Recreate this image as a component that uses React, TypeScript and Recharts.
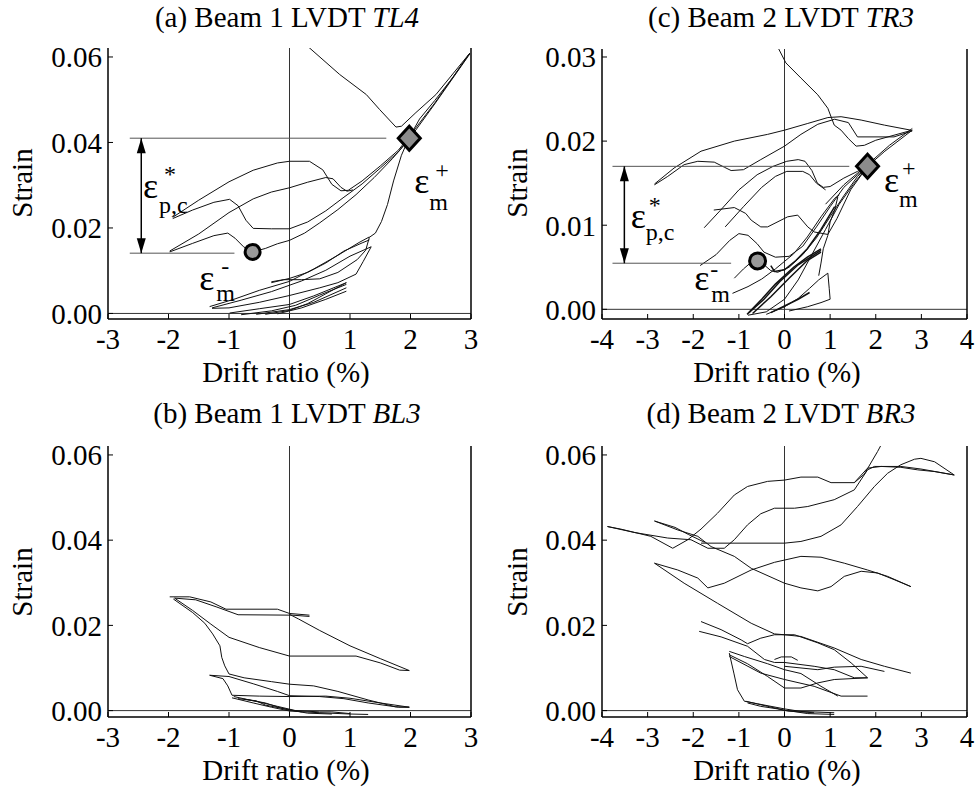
import { ComposedChart, Line, XAxis, YAxis, ReferenceLine, ReferenceDot } from 'recharts'
import type { ReactNode } from 'react'

type Pt = [number, number]

const FONT = "'Liberation Serif', 'Times New Roman', serif"

// (a) Beam 1 LVDT TL4
const tl4Top: Pt[] = [[0.30, 0.0625], [0.83, 0.0559], [1.27, 0.0512], [1.49, 0.0477], [1.76, 0.0436], [1.85, 0.0438], [2.09, 0.0470], [2.42, 0.0512], [2.98, 0.0609]]
const tl4Unload: Pt[] = [[2.98, 0.0609], [2.7, 0.0552], [2.4, 0.0498], [2.15, 0.0455], [1.98, 0.0412], [1.85, 0.037], [1.72, 0.031], [1.62, 0.0255], [1.52, 0.0215], [1.42, 0.0188], [1.32, 0.0178]]
const tl4LoopA: Pt[] = [[-1.93, 0.0225], [-1.5, 0.0265], [-1.0, 0.0308], [-0.6, 0.0335], [-0.2, 0.0352], [0, 0.0356], [0.33, 0.0356], [0.55, 0.0336], [0.7, 0.0302], [0.85, 0.0287], [0.97, 0.0288], [1.2, 0.031], [1.5, 0.0345], [1.8, 0.0382], [2.0, 0.0418], [2.4, 0.0492], [2.98, 0.0609]]
const tl4LoopB: Pt[] = [[-1.93, 0.0222], [-1.6, 0.0242], [-1.25, 0.026], [-0.99, 0.0267], [-0.85, 0.0252], [-0.72, 0.0218], [-0.6, 0.0199], [-0.3, 0.0198], [0, 0.0198], [0.3, 0.0214], [0.6, 0.024], [0.9, 0.0272], [1.2, 0.0303], [1.5, 0.034], [1.8, 0.0378], [1.98, 0.041]]
const tl4LoopC: Pt[] = [[-1.98, 0.0144], [-1.6, 0.0164], [-1.25, 0.0182], [-1.02, 0.0188], [-0.9, 0.0176], [-0.76, 0.0156], [-0.61, 0.0144], [-0.4, 0.0152], [-0.2, 0.0163], [0, 0.0171], [0.25, 0.0188], [0.5, 0.0212], [0.8, 0.0243], [1.1, 0.0278], [1.4, 0.0318], [1.7, 0.0362], [1.98, 0.0408], [2.4, 0.049], [2.98, 0.0607]]
const tl4LoopD: Pt[] = [[-1.98, 0.0146], [-1.5, 0.0186], [-1.0, 0.0236], [-0.6, 0.0268], [-0.3, 0.0284], [0, 0.0294], [0.3, 0.0307], [0.6, 0.0318], [0.72, 0.0315], [0.85, 0.0295], [0.95, 0.0286], [1.05, 0.0289]]
const tl4MidA: Pt[] = [[-1.32, 0.0016], [-0.9, 0.0034], [-0.5, 0.0054], [0, 0.0075], [0.4, 0.0104], [0.8, 0.0136], [1.15, 0.0166], [1.32, 0.0179]]
const tl4MidB: Pt[] = [[-0.3, 0.0072], [0, 0.0082], [0.3, 0.0096], [0.6, 0.0118], [0.9, 0.0146], [1.2, 0.0165], [1.32, 0.0172]]
const tl4MidC: Pt[] = [[1.32, 0.0178], [1.26, 0.0148], [1.12, 0.0126], [0.8, 0.0096], [0.5, 0.0081], [0.2, 0.0079], [-0.1, 0.0079], [-0.3, 0.0074]]
const tl4MidD: Pt[] = [[1.35, 0.0156], [1.22, 0.0122], [1.1, 0.0092], [0.8, 0.0072], [0.5, 0.006], [0, 0.0042], [-0.5, 0.0026], [-1.0, 0.0013], [-1.28, 0.0012]]
const tl4MidE: Pt[] = [[-1.28, 0.0013], [-0.8, 0.0031], [-0.3, 0.0051], [0.2, 0.0076], [0.6, 0.0101], [1.0, 0.0134], [1.35, 0.0156]]
const tl4SmallA: Pt[] = [[-0.99, 0.0001], [-0.5, 0.0011], [0, 0.0021], [0.4, 0.0041], [0.94, 0.0072]]
const tl4SmallB: Pt[] = [[-0.8, -0.0003], [-0.3, 0.0006], [0.1, 0.0019], [0.5, 0.0043], [0.94, 0.0068]]
const tl4SmallC: Pt[] = [[-0.55, -0.0002], [0, 0.0009], [0.4, 0.0026], [0.94, 0.006]]
const tl4SmallD: Pt[] = [[0.94, 0.0072], [0.6, 0.0046], [0.3, 0.0023], [0, 0.0007], [-0.4, -0.0002]]
const tl4SmallE: Pt[] = [[0.94, 0.0052], [0.6, 0.0033], [0.2, 0.0013], [-0.2, -0.0001]]

// (b) Beam 1 LVDT BL3
const bl3A: Pt[] = [[-1.98, 0.0267], [-1.65, 0.0267], [-1.3, 0.0255], [-1.05, 0.0238], [-0.2, 0.0238], [0, 0.0228], [0.33, 0.0224]]
const bl3B: Pt[] = [[0.33, 0.0221], [0.05, 0.0224], [-0.85, 0.0225], [-1.2, 0.0243], [-1.55, 0.026], [-1.9, 0.0264]]
const bl3C: Pt[] = [[-1.9, 0.0264], [-1.6, 0.0235], [-1.3, 0.0203], [-1.0, 0.0172], [-0.5, 0.0148], [0, 0.0128], [1.1, 0.0128], [1.5, 0.0112], [1.82, 0.0095], [1.98, 0.0094]]
const bl3D: Pt[] = [[1.98, 0.0094], [1.5, 0.0122], [1.0, 0.0152], [0.5, 0.0188], [0.15, 0.0215], [0, 0.0226]]
const bl3E: Pt[] = [[-1.92, 0.0262], [-1.6, 0.023], [-1.4, 0.0205], [-1.27, 0.018], [-1.15, 0.0152], [-1.12, 0.0125], [-1.07, 0.0105], [-1.0, 0.0086], [-0.75, 0.0077], [-0.3, 0.0068], [0, 0.0062], [0.4, 0.0058], [0.8, 0.0045], [1.3, 0.0025], [1.75, 0.0009], [1.98, 0.0008]]
const bl3F: Pt[] = [[-1.32, 0.0083], [-1.0, 0.008], [-0.6, 0.0063], [-0.2, 0.0045], [0, 0.0035], [0.5, 0.0033], [0.9, 0.0028], [1.3, 0.0018], [1.8, 0.0008], [1.98, 0.0008]]
const bl3G: Pt[] = [[-1.32, 0.0083], [-1.1, 0.0075], [-1.02, 0.0058], [-0.95, 0.0036], [-0.5, 0.0034], [0, 0.0033], [0.6, 0.0034], [1.0, 0.0029], [1.5, 0.0018], [1.98, 0.0008]]
const bl3H: Pt[] = [[-0.95, 0.003], [-0.6, 0.0018], [-0.3, 0.0008], [0, -0.0001], [0.5, -0.0005], [1.0, -0.0008], [1.3, -0.0009]]
const bl3I: Pt[] = [[-0.92, 0.0033], [-0.5, 0.002], [-0.2, 0.001], [0.1, 0], [0.5, -0.0003], [0.7, -0.0003], [1.0, -0.0007]]
const bl3J: Pt[] = [[-0.85, 0.0028], [-0.55, 0.0023], [-0.4, 0.0013], [-0.15, 0.0006], [0.2, -0.0003]]
const bl3K: Pt[] = [[-0.75, 0.0027], [-0.4, 0.0018], [-0.1, 0.0004], [0.3, -0.0006], [0.7, -0.0008]]

// (c) Beam 2 LVDT TR3
const tr3Top: Pt[] = [[-0.15, 0.0312], [0.03, 0.0293], [0.36, 0.0275], [0.73, 0.0255], [0.95, 0.0239], [1.09, 0.0219], [1.24, 0.0213], [1.4, 0.0203], [1.57, 0.0194], [1.75, 0.0195], [2.0, 0.0201], [2.4, 0.0207], [2.8, 0.0213]]
const tr3UpperA: Pt[] = [[-2.85, 0.0149], [-2.42, 0.0168], [-1.83, 0.0188], [-1.1, 0.02], [-0.37, 0.0208], [0, 0.0213], [0.51, 0.0221], [0.95, 0.0228], [1.24, 0.0229], [1.68, 0.0225], [2.19, 0.0219], [2.77, 0.0213]]
const tr3UpperB: Pt[] = [[-2.85, 0.0148], [-2.56, 0.0158], [-2.2, 0.0172], [-1.9, 0.0176], [-1.54, 0.0175], [-1.32, 0.0169], [-1.17, 0.0165], [-0.9, 0.0166], [-0.52, 0.0178], [0, 0.0194], [0.36, 0.0208], [0.73, 0.022], [1.1, 0.0226], [1.4, 0.0222], [1.6, 0.0205], [2.4, 0.0205], [2.8, 0.0212]]
const tr3Hump: Pt[] = [[-1.76, 0.0097], [-1.4, 0.0118], [-1.0, 0.0142], [-0.6, 0.016], [-0.25, 0.017], [0.05, 0.0176], [0.3, 0.0178], [0.45, 0.0176], [0.6, 0.0165], [0.72, 0.015], [0.85, 0.0145], [1.0, 0.0146], [1.3, 0.0156], [1.6, 0.0164], [1.82, 0.017], [2.2, 0.0188], [2.8, 0.0213]]
const tr3Flat: Pt[] = [[-1.3, 0.0098], [-0.9, 0.0122], [-0.5, 0.0145], [-0.2, 0.0158], [0.05, 0.0164], [0.4, 0.0164], [0.55, 0.016], [0.7, 0.015], [0.9, 0.0142]]
const tr3Wiggle: Pt[] = [[-1.55, 0.0118], [-1.1, 0.0121], [-0.85, 0.0114], [-0.73, 0.0106], [-0.52, 0.0098], [-0.37, 0.0098], [0.07, 0.011], [0.29, 0.0112], [0.51, 0.0098], [0.65, 0.0092], [0.95, 0.0089], [1.15, 0.0108], [1.45, 0.0142], [1.82, 0.017]]
const tr3Mid: Pt[] = [[-1.85, 0.0052], [-1.5, 0.0065], [-1.2, 0.0082], [-1.0, 0.009], [-0.8, 0.0088], [-0.6, 0.0078], [-0.45, 0.0068], [-0.2, 0.0062], [0.1, 0.0063], [0.4, 0.0075], [0.7, 0.0098], [1.0, 0.0122], [1.3, 0.0145], [1.6, 0.016], [1.82, 0.017]]
const tr3Circle: Pt[] = [[-1.1, 0.0037], [-0.9, 0.0048], [-0.75, 0.0055], [-0.59, 0.0057], [-0.45, 0.0053], [-0.3, 0.0046], [-0.15, 0.0044], [0.1, 0.005], [0.4, 0.0065], [0.7, 0.0085], [1.0, 0.011], [1.3, 0.0135], [1.6, 0.0158], [1.82, 0.017]]
const tr3Low: Pt[] = [[-1.14, 0.0019], [-0.8, 0.0027], [-0.5, 0.0036], [-0.2, 0.0048], [0.2, 0.0066], [0.5, 0.0086], [0.8, 0.011], [1.1, 0.0132], [1.2, 0.0136]]
const tr3Right: Pt[] = [[-0.4, -0.0006], [0, 0.0003], [0.3, 0.0013], [0.55, 0.0025], [0.75, 0.0035], [0.95, 0.0043], [0.98, 0.0025], [1.0, 0.0012], [0.8, 0.0008], [0.5, 0.0003], [0.1, -0.0002]]
const tr3Unload: Pt[] = [[1.82, 0.017], [1.5, 0.0148], [1.2, 0.0125], [0.9, 0.0095], [0.6, 0.0065], [0.3, 0.0035], [0, 0.0012], [-0.4, -0.0003], [-0.8, -0.0007]]
const tr3Edge: Pt[] = [[1.17, 0.0134], [1.1, 0.0118], [1.0, 0.0104], [0.95, 0.0088], [0.85, 0.0072], [0.8, 0.0055], [0.75, 0.004]]
const tr3Branch: Pt[] = [[0.9, 0.0125], [1.3, 0.0148], [1.82, 0.0172], [2.3, 0.0195], [2.8, 0.0215]]
// darker (overdrawn) strands
const tr3Hook: Pt[] = [[-0.3, 0.0052], [-0.22, 0.0045], [0, 0.0047], [0.25, 0.0058], [0.5, 0.0072], [0.8, 0.0095], [1.1, 0.0122]]
const tr3FanA: Pt[] = [[-0.82, -0.0006], [-0.5, 0.0012], [-0.2, 0.003], [0.2, 0.005], [0.5, 0.0062], [0.8, 0.0072]]
const tr3FanB: Pt[] = [[-0.78, -0.0004], [-0.45, 0.0012], [-0.1, 0.0033], [0.3, 0.0053], [0.8, 0.007]]
const tr3FanC: Pt[] = [[-0.7, -0.0005], [-0.3, 0.0015], [0.1, 0.0037], [0.5, 0.0058], [0.8, 0.0068]]
const tr3Base: Pt[] = [[-0.3, -0.0004], [0, 0.0004], [0.3, 0.0012], [0.55, 0.002]]

// (d) Beam 2 LVDT BR3
const br3A: Pt[] = [[-3.88, 0.0432], [-3.59, 0.0426], [-2.93, 0.0409], [-2.45, 0.0381], [-2.12, 0.0401], [-1.83, 0.0426], [-1.47, 0.0463], [-1.1, 0.0506], [-0.81, 0.0526], [-0.37, 0.0538], [0, 0.0541], [0.36, 0.0548], [0.73, 0.0548], [1.02, 0.0535], [1.53, 0.0535], [1.82, 0.0569], [2.12, 0.0573], [2.55, 0.0571], [2.92, 0.0565], [3.29, 0.0561], [3.72, 0.0553]]
const br3Spike: Pt[] = [[1.53, 0.0535], [1.75, 0.0555], [1.93, 0.0588], [2.04, 0.0608], [2.12, 0.0624]]
const br3B: Pt[] = [[-3.88, 0.0432], [-3.29, 0.0418], [-2.56, 0.0405], [-2.05, 0.0401], [-1.68, 0.0381], [-1.32, 0.0381], [-1.1, 0.0401], [-0.81, 0.0436], [-0.52, 0.0462], [-0.22, 0.0475], [0.22, 0.0475], [0.51, 0.0479], [1.09, 0.0495], [1.53, 0.0518], [1.82, 0.0565], [1.97, 0.0573], [2.55, 0.0573], [2.99, 0.0567], [3.72, 0.0553]]
const br3C: Pt[] = [[-1.83, 0.0393], [0, 0.0393], [0.36, 0.0397], [0.8, 0.0409], [1.24, 0.0436], [1.6, 0.0479], [1.97, 0.0526], [2.26, 0.0557], [2.55, 0.0577], [2.85, 0.059], [2.99, 0.0592], [3.29, 0.0584], [3.72, 0.0553]]
const br3D: Pt[] = [[-2.85, 0.0445], [-2.34, 0.0424], [-1.9, 0.0409], [-1.61, 0.0385], [-1.1, 0.0362], [-0.73, 0.0334], [0, 0.0299], [0.36, 0.0288], [0.73, 0.0281], [1.02, 0.0291], [1.31, 0.0315], [1.68, 0.0327], [2.04, 0.0323], [2.41, 0.0307], [2.77, 0.0291]]
const br3E: Pt[] = [[-2.85, 0.0445], [-2.4, 0.043], [-2.1, 0.0413], [-1.75, 0.0395]]
const br3F: Pt[] = [[-2.85, 0.0346], [-2.34, 0.033], [-1.9, 0.0311], [-1.68, 0.0288], [-1.32, 0.0299], [-0.73, 0.033], [-0.22, 0.0348], [0.36, 0.0362], [0.8, 0.036], [1.31, 0.0346], [1.82, 0.033], [2.26, 0.0315], [2.77, 0.0291]]
const br3G: Pt[] = [[-2.85, 0.0346], [-2.2, 0.0299], [-1.47, 0.0252], [-0.73, 0.0205], [-0.22, 0.018], [0, 0.0178], [0.36, 0.0174], [1.09, 0.0147], [1.68, 0.012], [2.19, 0.0104], [2.77, 0.0088]]
const br3H: Pt[] = [[-1.83, 0.0209], [-1.39, 0.019], [-0.95, 0.0166], [-0.81, 0.0157], [-0.52, 0.017], [-0.22, 0.0178], [0.22, 0.0178], [0.73, 0.0159], [1.09, 0.0143], [1.46, 0.0112], [1.82, 0.0077]]
const br3I: Pt[] = [[-1.87, 0.0186], [-1.39, 0.0173], [-0.81, 0.0151], [-0.44, 0.012], [-0.22, 0.0113], [0, 0.0113], [0.65, 0.0104], [1.09, 0.0096], [1.53, 0.0077], [1.82, 0.0077]]
const br3J: Pt[] = [[-1.21, 0.0139], [-0.88, 0.0127], [-0.37, 0.011], [0, 0.0096], [0.36, 0.0087], [0.8, 0.0057], [1.17, 0.0034]]
const br3K: Pt[] = [[-1.21, 0.0131], [-0.81, 0.011], [-0.37, 0.008], [0, 0.0053], [0.36, 0.0053], [0.73, 0.0065], [1.09, 0.0073], [1.82, 0.0077]]
const br3L: Pt[] = [[-1.21, 0.0135], [-1.11, 0.0088], [-1.03, 0.0049], [-0.88, 0.0022], [-0.59, 0.0016], [0, 0.0004], [0.36, -0.0002], [1.09, -0.0005]]
const br3M: Pt[] = [[-0.85, 0.0022], [-0.37, 0.001], [0, 0.0001], [0.51, -0.0007], [1.09, -0.0009]]
const br3N: Pt[] = [[-0.81, 0.0018], [-0.52, 0.001], [-0.15, 0.0004], [0.07, -0.0001], [0.65, -0.0005]]
const br3O: Pt[] = [[-1.21, 0.0127], [-0.52, 0.0088], [0, 0.0073], [0.65, 0.0057], [1.24, 0.0034], [1.82, 0.0034]]
const br3P: Pt[] = [[0, 0.0104], [0.73, 0.0096], [1.09, 0.0102], [1.68, 0.0104], [2.19, 0.0092]]
const br3Q: Pt[] = [[-0.22, 0.012], [-0.07, 0.0126], [0.15, 0.0126], [0.29, 0.0118]]

// annotation values
const tl4Peak: Pt = [1.98, 0.041]
const tl4Residual: Pt = [-0.61, 0.0144]
const tr3Peak: Pt = [1.82, 0.017]
const tr3Residual: Pt = [-0.59, 0.00575]

const xTicks3 = [-3, -2, -1, 0, 1, 2, 3]
const xTicks4 = [-4, -3, -2, -1, 0, 1, 2, 3, 4]
const yTicks06 = [0, 0.02, 0.04, 0.06]
const yTicks03 = [0, 0.01, 0.02, 0.03]

const toXY = (c: Pt[]) => c.map(([x, y]) => ({ x, y }))

const Diamond = (p: any) => (
  <polygon
    points={`${p.cx},${p.cy - 12} ${p.cx + 11},${p.cy} ${p.cx},${p.cy + 12} ${p.cx - 11},${p.cy}`}
    fill="#8c8c8c" stroke="#000" strokeWidth={3}
  />
)
const ArrowUp = (p: any) => <polygon points={`${p.cx},${p.cy} ${p.cx - 4.5},${p.cy + 15} ${p.cx + 4.5},${p.cy + 15}`} fill="#000" />
const ArrowDown = (p: any) => <polygon points={`${p.cx},${p.cy} ${p.cx - 4.5},${p.cy - 15} ${p.cx + 4.5},${p.cy - 15}`} fill="#000" />

// epsilon with stacked super/subscript, offsets in px: [supDx, supDy, subDx, subDy]
const eps = (sup: string, sub: string, o: number[]) => (p: any) => (
  <g fontFamily={FONT} fill="#000">
    <text x={p.cx} y={p.cy} fontSize={36}>ε</text>
    <text x={p.cx + o[0]} y={p.cy + o[1]} fontSize={24}>{sup}</text>
    <text x={p.cx + o[2]} y={p.cy + o[3]} fontSize={24}>{sub}</text>
  </g>
)

interface PanelProps {
  left: number
  top: number
  width: number
  box: { l: number; r: number; t: number; b: number }
  xTicks: number[]
  yTicks: number[]
  yDomain: [number, number]
  curves: Pt[][]
  heavy?: Pt[][]
  title: string
  code: string
  titleX: number
  labelX: number
  strainX: number
  strainY: number
  children?: ReactNode
}

const HEIGHT = 396
const tickStyle = { fontFamily: FONT, fontSize: 29, fill: '#000' }

function Panel(props: PanelProps) {
  const { left, top, width, box, xTicks, yTicks, yDomain, curves, heavy = [] } = props
  const xDomain = [xTicks[0], xTicks[xTicks.length - 1]]
  const frame = { stroke: '#000', strokeWidth: 1.5 }
  return (
    <div style={{ position: 'absolute', left, top, width, height: HEIGHT }}>
      <ComposedChart width={width} height={HEIGHT} margin={{ top: box.t, right: 0, bottom: 0, left: 0 }}>
        <XAxis type="number" dataKey="x" domain={xDomain} ticks={xTicks} interval={0} allowDataOverflow
          height={HEIGHT - box.b} axisLine={frame} tickLine={{ stroke: '#000' }} tickSize={-5} tickMargin={14}
          tick={tickStyle} />
        <XAxis xAxisId="t" orientation="top" type="number" dataKey="x" domain={xDomain} ticks={xTicks} interval={0}
          allowDataOverflow height={0} axisLine={frame} tickLine={{ stroke: '#000' }} tickSize={-5} tick={false} />
        <YAxis type="number" domain={yDomain} ticks={yTicks} interval={0} allowDataOverflow width={box.l}
          axisLine={frame} tickLine={{ stroke: '#000' }} tickSize={-5} tickMargin={11} tick={tickStyle}
          tickFormatter={(v: number) => v.toFixed(2)} />
        <YAxis yAxisId="r" orientation="right" type="number" domain={yDomain} ticks={yTicks} interval={0}
          allowDataOverflow width={width - box.r} axisLine={frame} tickLine={{ stroke: '#000' }} tickSize={-5} tick={false} />
        <ReferenceLine y={0} stroke="#333" strokeWidth={1} />
        <ReferenceLine x={0} stroke="#333" strokeWidth={1} />
        {curves.map((c, i) => (
          <Line key={`c-${i}`} data={toXY(c)} dataKey="y" type="linear" stroke="#111" strokeWidth={1}
            dot={false} activeDot={false} isAnimationActive={false} legendType="none" />
        ))}
        {heavy.map((c, i) => (
          <Line key={`h-${i}`} data={toXY(c)} dataKey="y" type="linear" stroke="#111" strokeWidth={1.5}
            dot={false} activeDot={false} isAnimationActive={false} legendType="none" />
        ))}
        {props.children}
      </ComposedChart>
      <svg width={width} height={HEIGHT} style={{ position: 'absolute', left: 0, top: 0, pointerEvents: 'none' }}
        fontFamily={FONT} fontSize={29} fill="#000">
        <text x={props.titleX} y={27} textAnchor="middle">
          {`${props.title} `}<tspan fontStyle="italic">{props.code}</tspan>
        </text>
        <text x={props.labelX} y={box.b + 63} textAnchor="middle">Drift ratio (%)</text>
        <text x={props.strainX} y={props.strainY} textAnchor="middle"
          transform={`rotate(-90 ${props.strainX} ${props.strainY})`}>Strain</text>
      </svg>
    </div>
  )
}

export default function App() {
  const gray = '#555'
  return (
    <div style={{ position: 'absolute', left: 0, top: 0, width: 975, height: 792, background: '#fff' }}>
      <Panel left={0} top={0} width={487} box={{ l: 108, r: 471, t: 48, b: 319 }}
        xTicks={xTicks3} yTicks={yTicks06} yDomain={[-0.0013, 0.0621]}
        curves={[tl4Top, tl4Unload, tl4LoopA, tl4LoopB, tl4LoopC, tl4LoopD, tl4MidA, tl4MidB, tl4MidC, tl4MidD, tl4MidE, tl4SmallA, tl4SmallB, tl4SmallC, tl4SmallD, tl4SmallE]}
        title="(a) Beam 1 LVDT" code="TL4" titleX={287} labelX={286} strainX={32} strainY={183}>
        <ReferenceLine segment={[{ x: -2.64, y: tl4Peak[1] }, { x: 1.6, y: tl4Peak[1] }]} stroke={gray} />
        <ReferenceLine segment={[{ x: -2.64, y: 0.0141 }, { x: -0.91, y: 0.0141 }]} stroke={gray} />
        <ReferenceLine segment={[{ x: -2.45, y: tl4Peak[1] }, { x: -2.45, y: 0.0141 }]} stroke="#000" strokeWidth={1.5} />
        <ReferenceDot x={-2.45} y={tl4Peak[1]} r={1} shape={ArrowUp} />
        <ReferenceDot x={-2.45} y={0.0141} r={1} shape={ArrowDown} />
        <ReferenceDot x={tl4Residual[0]} y={tl4Residual[1]} r={7.5} fill="#999" stroke="#000" strokeWidth={3} />
        <ReferenceDot x={tl4Peak[0]} y={tl4Peak[1]} r={1} shape={Diamond} />
        <ReferenceDot x={-2.42} y={0.027} r={1} shape={eps('*', 'p,c', [21, -16, 16, 15])} />
        <ReferenceDot x={2.06} y={0.0282} r={1} shape={eps('+', 'm', [21, -15, 15, 17])} />
        <ReferenceDot x={-1.49} y={0.0055} r={1} shape={eps('-', 'm', [22, -16, 17, 11])} />
      </Panel>
      <Panel left={487} top={0} width={488} box={{ l: 115, r: 480, t: 49, b: 319 }}
        xTicks={xTicks4} yTicks={yTicks03} yDomain={[-0.00115, 0.03095]}
        curves={[tr3Top, tr3UpperA, tr3UpperB, tr3Hump, tr3Flat, tr3Wiggle, tr3Mid, tr3Circle, tr3Low, tr3Right, tr3Unload, tr3Edge, tr3Branch]}
        heavy={[tr3Hook, tr3FanA, tr3FanB, tr3FanC, tr3Base]}
        title="(c) Beam 2 LVDT" code="TR3" titleX={294} labelX={290} strainX={40} strainY={183}>
        <ReferenceLine segment={[{ x: -3.77, y: tr3Peak[1] }, { x: 1.42, y: tr3Peak[1] }]} stroke={gray} />
        <ReferenceLine segment={[{ x: -3.77, y: 0.00548 }, { x: -1.17, y: 0.00548 }]} stroke={gray} />
        <ReferenceLine segment={[{ x: -3.51, y: tr3Peak[1] }, { x: -3.51, y: 0.00548 }]} stroke="#000" strokeWidth={1.5} />
        <ReferenceDot x={-3.51} y={tr3Peak[1]} r={1} shape={ArrowUp} />
        <ReferenceDot x={-3.51} y={0.00548} r={1} shape={ArrowDown} />
        <ReferenceDot x={tr3Residual[0]} y={tr3Residual[1]} r={8} fill="#999" stroke="#000" strokeWidth={3} />
        <ReferenceDot x={tr3Peak[0]} y={tr3Peak[1]} r={1} shape={Diamond} />
        <ReferenceDot x={-3.37} y={0.00968} r={1} shape={eps('*', 'p,c', [18, -15, 15, 12])} />
        <ReferenceDot x={2.18} y={0.01396} r={1} shape={eps('+', 'm', [18, -16, 15, 15])} />
        <ReferenceDot x={-1.98} y={0.0023} r={1} shape={eps('-', 'm', [16, -13, 17, 12])} />
      </Panel>
      <Panel left={0} top={396} width={487} box={{ l: 108, r: 471, t: 50, b: 321 }}
        xTicks={xTicks3} yTicks={yTicks06} yDomain={[-0.0015, 0.0621]}
        curves={[bl3A, bl3B, bl3C, bl3D, bl3E, bl3F, bl3G, bl3H, bl3I, bl3J, bl3K]}
        title="(b) Beam 1 LVDT" code="BL3" titleX={287} labelX={286} strainX={32} strainY={186} />
      <Panel left={487} top={396} width={488} box={{ l: 115, r: 480, t: 50, b: 321 }}
        xTicks={xTicks4} yTicks={yTicks06} yDomain={[-0.0015, 0.0621]}
        curves={[br3A, br3Spike, br3B, br3C, br3D, br3E, br3F, br3G, br3H, br3I, br3J, br3K, br3L, br3M, br3N, br3O, br3P, br3Q]}
        title="(d) Beam 2 LVDT" code="BR3" titleX={294} labelX={290} strainX={40} strainY={186} />
    </div>
  )
}
